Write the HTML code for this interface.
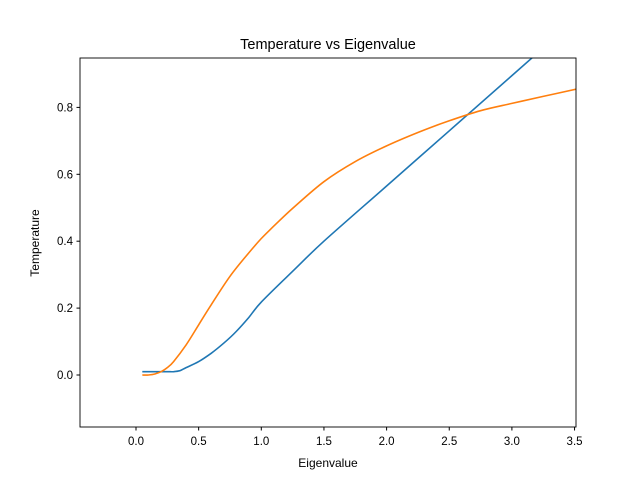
<!DOCTYPE html>
<html><head><meta charset="utf-8"><style>body{margin:0;background:#fff}svg{display:block;font-family:"Liberation Sans","DejaVu Sans",sans-serif}</style></head>
<body>
<svg id="chart" width="640" height="480">
<defs><clipPath id="clip"><rect x="80" y="58" width="496" height="369"/></clipPath></defs>
<rect x="0" y="0" width="640" height="480" fill="#fff"/>
<text x="328" y="49" font-size="14.5" text-anchor="middle">Temperature vs Eigenvalue</text>
<g id="plot" clip-path="url(#clip)"></g>
<g id="axes"></g>
<rect x="80" y="58" width="496" height="369" fill="none" stroke="#000" stroke-width="0.9"/>
<text x="328" y="467" font-size="12" text-anchor="middle">Eigenvalue</text>
<text transform="translate(39,243) rotate(-90)" font-size="12" text-anchor="middle">Temperature</text>
</svg>
<script>
const xTicks=[0,0.5,1,1.5,2,2.5,3,3.5];
const xTickLabels=["0.0","0.5","1.0","1.5","2.0","2.5","3.0","3.5"];
const yTicks=[0,0.2,0.4,0.6,0.8];
const yTickLabels=["0.0","0.2","0.4","0.6","0.8"];
const blueX=[0.05,0.15,0.25,0.3,0.35,0.4,0.5,0.6,0.7,0.8,0.9,1.0,1.25,1.5,2.0,2.5,3.0,3.5];
const blueY=[0.01,0.01,0.01,0.01,0.013,0.022,0.04,0.065,0.095,0.13,0.172,0.218,0.31,0.4,0.565,0.73,0.895,1.06];
const orangeX=[0.05,0.1,0.15,0.2,0.25,0.3,0.4,0.5,0.6,0.75,0.9,1.0,1.1,1.25,1.5,1.75,2.0,2.25,2.5,2.75,3.0,3.25,3.52];
const orangeY=[0.0,0.0,0.003,0.01,0.022,0.04,0.09,0.15,0.21,0.295,0.365,0.408,0.445,0.498,0.578,0.638,0.685,0.725,0.76,0.79,0.812,0.833,0.855];
const X=v=>136+(v)*125.3;
const Y=v=>375-v*334.5;
const NS="http://www.w3.org/2000/svg";
const plot=document.getElementById('plot'),axes=document.getElementById('axes');
function line(xs,ys,color,name){
  const P=xs.map((x,i)=>[X(x),Y(ys[i])]);
  let d='M'+P[0][0].toFixed(1)+','+P[0][1].toFixed(1);
  for(let i=0;i<P.length-1;i++){
    const p0=P[i-1]||P[i],p1=P[i],p2=P[i+1],p3=P[i+2]||p2;
    const c1=[p1[0]+(p2[0]-p0[0])/6,p1[1]+(p2[1]-p0[1])/6];
    const c2=[p2[0]-(p3[0]-p1[0])/6,p2[1]-(p3[1]-p1[1])/6];
    d+='C'+c1.map(v=>v.toFixed(1)).join(',')+' '+c2.map(v=>v.toFixed(1)).join(',')+' '+p2.map(v=>v.toFixed(1)).join(',');
  }
  const p=document.createElementNS(NS,'path');
  p.setAttribute('d',d);
  p.setAttribute('fill','none');p.setAttribute('stroke',color);p.setAttribute('stroke-width','1.6');
  
  
  plot.appendChild(p);
}
line(blueX,blueY,'#1f77b4','series-blue-line');
line(orangeX,orangeY,'#ff7f0e','series-orange-line');
xTicks.forEach((t,i)=>{
  const l=document.createElementNS(NS,'line');
  l.setAttribute('x1',X(t));l.setAttribute('x2',X(t));l.setAttribute('y1',427);l.setAttribute('y2',430.5);l.setAttribute('stroke','#000');
  
  
  axes.appendChild(l);
  const tx=document.createElementNS(NS,'text');
  tx.setAttribute('x',X(t));tx.setAttribute('y',445);tx.setAttribute('font-size','11.5');tx.setAttribute('text-anchor','middle');
  tx.textContent=xTickLabels[i];
  
  
  axes.appendChild(tx);
});
yTicks.forEach((t,i)=>{
  const l=document.createElementNS(NS,'line');
  l.setAttribute('x1',76.5);l.setAttribute('x2',80);l.setAttribute('y1',Y(t));l.setAttribute('y2',Y(t));l.setAttribute('stroke','#000');
  
  
  axes.appendChild(l);
  const tx=document.createElementNS(NS,'text');
  tx.setAttribute('x',73);tx.setAttribute('y',Y(t)+4);tx.setAttribute('font-size','11.5');tx.setAttribute('text-anchor','end');
  tx.textContent=yTickLabels[i];
  
  
  axes.appendChild(tx);
});
</script>
</body></html>
